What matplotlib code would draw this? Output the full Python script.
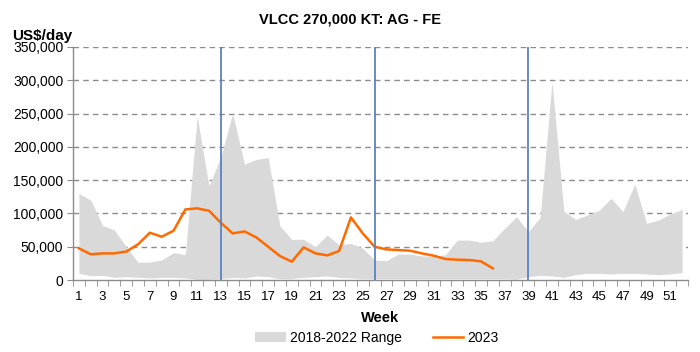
import matplotlib
matplotlib.use("Agg")
import matplotlib.pyplot as plt
import numpy as np
from matplotlib.patches import Patch
from matplotlib.lines import Line2D

weeks = list(range(1, 53))
range_high = [130000, 120000, 82000, 75000, 50000, 26600, 27000, 30000, 41000, 38000,
              246000, 141000, 185000, 250000, 174000, 181000, 184000, 81000, 61000, 61000,
              50000, 67600, 52600, 55000, 47600, 30000, 29000, 39000, 39000, 36000,
              36000, 38000, 60000, 60000, 56600, 59000, 77600, 95000, 72600, 94000,
              298000, 103600, 91000, 97600, 105000, 122600, 102600, 144000, 85000, 90000,
              99000, 106000]
range_low = [10000, 6500, 7000, 4000, 5000, 4000, 3000, 4000, 4000, 3000,
             1000, 1000, 2000, 4000, 3000, 6000, 5000, 2000, 2000, 4000,
             5000, 6000, 4000, 3000, 2000, 2000, 2000, 2000, 2000, 2000,
             2000, 2000, 2000, 2000, 2000, 2000, 2000, 1500, 5000, 7000,
             6000, 4000, 8000, 10000, 10000, 9000, 10000, 10000, 9000, 8000,
             9000, 11000]
y2023 = [47600, 38600, 40000, 40000, 42700, 53600, 71000, 65000, 74000, 106000,
         107600, 104000, 86000, 70000, 73000, 64000, 50000, 36000, 27500, 49000,
         40000, 37000, 43600, 94000, 70000, 50000, 46000, 45000, 44000, 40000,
         36500, 31500, 30500, 30000, 28000, 17500]
quarter_weeks = [13, 26, 39]
yticks = [0, 50000, 100000, 150000, 200000, 250000, 300000, 350000]

plt.rcParams['font.family'] = ['Liberation Sans', 'DejaVu Sans']

fig = plt.figure(figsize=(7, 3.52), dpi=100)
ax = fig.add_axes([73/700, 1-280/352, (688-73)/700, (280-47)/352])

x = np.arange(len(weeks))
ax.fill_between(x, range_low, range_high, color='#d9d9d9', linewidth=0, zorder=1)
x23 = np.arange(len(y2023))
ax.plot(x23, y2023, color='#ff6a00', linewidth=1.8, zorder=3)

for w in quarter_weeks:
    ax.axvline(weeks.index(w), color='#5a82c0', linewidth=1.3, zorder=4)

ax.set_xlim(-0.5, len(weeks) - 0.5)
ax.set_ylim(0, 350000)
ax.set_yticks(yticks)
ax.set_yticklabels([f"{v:,}" for v in yticks], fontsize=10)
for v in yticks[1:]:
    ax.axhline(v, color='#8c8c8c', linestyle=(0, (4, 3)), linewidth=1.0, zorder=0.5)

ax.set_xticks(x[::2])
ax.set_xticklabels([str(w) for w in weeks[::2]], fontsize=9.5)
ax.set_xticks(np.arange(-0.5, len(weeks), 1), minor=True)
ax.tick_params(axis='x', which='major', length=0, pad=8)
ax.tick_params(axis='x', which='minor', length=4, color='#8c8c8c', direction='out')
ax.tick_params(axis='y', length=4, color='#8c8c8c', pad=3)

for s in ['top', 'right']:
    ax.spines[s].set_visible(False)
for s in ['left', 'bottom']:
    ax.spines[s].set_color('#8c8c8c')
    ax.spines[s].set_linewidth(1.0)

fig.text(0.5, 1-20/352, "VLCC 270,000 KT: AG - FE", ha='center', va='center',
         fontsize=10.5, fontweight='bold')
fig.text(12/700, 1-36/352, "US$/day", ha='left', va='center', fontsize=11, fontweight='bold')
fig.text((73+688)/2/700, 1-318/352, "Week", ha='center', va='center', fontsize=10.5, fontweight='bold')

handles = [Patch(facecolor='#d9d9d9', edgecolor='none'),
           Line2D([0], [0], color='#ff6a00', linewidth=1.8)]
fig.legend(handles, ["2018-2022 Range", "2023"], loc='center', ncol=2,
           bbox_to_anchor=((73+688)/2/700 - 0.005, 1-338/352), frameon=False, fontsize=10,
           handlelength=2.2, columnspacing=2.2, handletextpad=0.3)

fig.savefig("out.png", dpi=100)
